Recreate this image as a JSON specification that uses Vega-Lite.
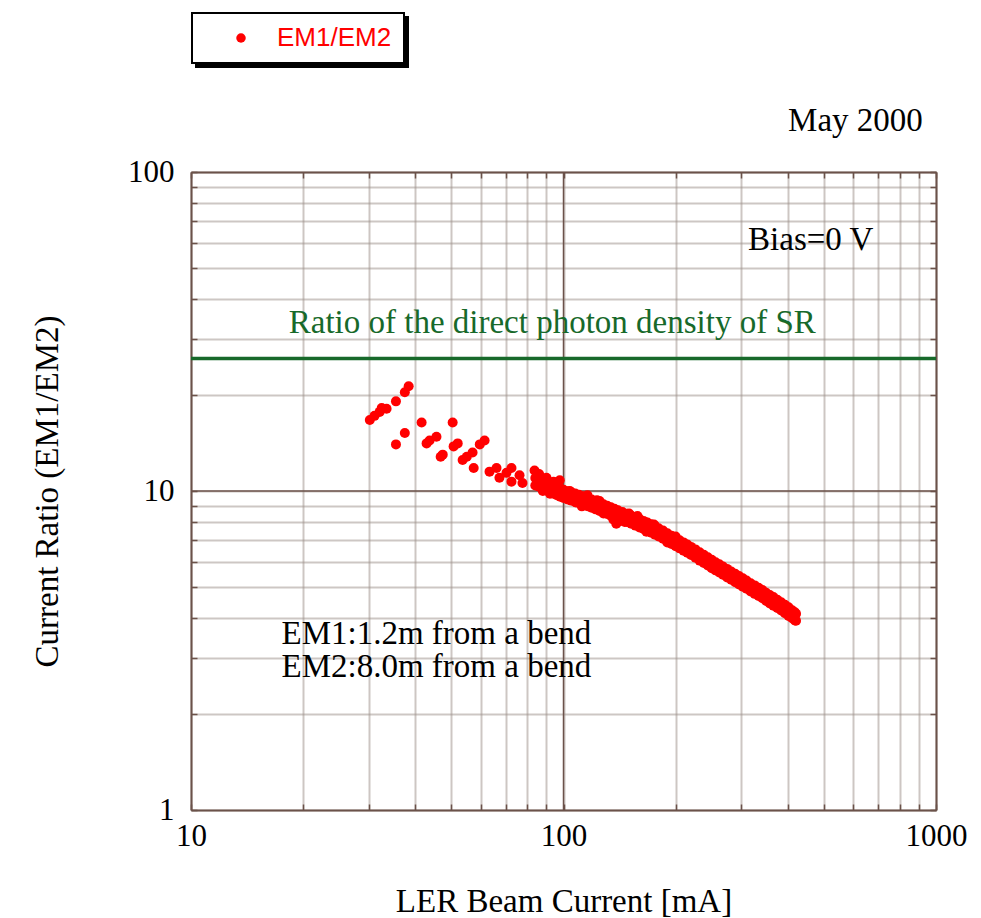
{
  "$schema": "https://vega.github.io/schema/vega-lite/v6.json",
  "width": 745,
  "height": 638,
  "autosize": {"type": "none"},
  "padding": {"left": 191, "top": 172, "right": 45, "bottom": 108},
  "background": "white",
  "config": {"view": {"stroke": null}, "legend": {"strokeWidth": 2}},
  "resolve": {"axis": {"x": "independent", "y": "independent"}, "scale": {"color": "independent"}, "legend": {"color": "independent"}},
  "layer": [
    {
      "data": {"values": [{"gx": 100}]},
      "mark": {"type": "rule", "color": "#6b524a", "strokeWidth": 1.5},
      "encoding": {
        "x": {"field": "gx", "type": "quantitative", "scale": {"type": "log", "domain": [10, 1000], "nice": false},
          "axis": {"orient": "top", "values": [10,20,30,40,50,60,70,80,90,100,200,300,400,500,600,700,800,900,1000], "labels": false, "grid": false, "title": null, "tickSize": -6, "tickColor": "#6b524a", "tickWidth": 1.5, "domainColor": "#6b524a", "domainWidth": 2}}
      }
    },
    {
      "data": {"values": [{"gy": 10}]},
      "mark": {"type": "rule", "color": "#6b524a", "strokeWidth": 1.5},
      "encoding": {
        "y": {"field": "gy", "type": "quantitative", "scale": {"type": "log", "domain": [1, 100], "nice": false},
          "axis": {"orient": "right", "values": [1,2,3,4,5,6,7,8,9,10,20,30,40,50,60,70,80,90,100], "labels": false, "grid": false, "title": null, "tickSize": -6, "tickColor": "#6b524a", "tickWidth": 1.5, "domainColor": "#6b524a", "domainWidth": 2}}
      }
    },
    {
      "data": {"values": [{"ratio": 26, "k": "EM1/EM2"}]},
      "mark": {"type": "rule", "strokeWidth": 3.5},
      "encoding": {
        "y": {"field": "ratio", "type": "quantitative", "scale": {"type": "log", "domain": [1, 100], "nice": false}, "axis": null},
        "color": {"field": "k", "type": "nominal", "scale": {"range": ["#17692a"]},
          "legend": {"orient": "none", "legendX": 5, "legendY": -155, "title": null, "fillColor": "black", "strokeColor": "black", "padding": 12, "symbolOffset": 24, "labelOffset": 23, "labelFont": "Liberation Sans", "labelFontSize": 26, "labelColor": "black", "symbolType": "circle", "symbolSize": 90, "symbolFillColor": "black", "symbolStrokeColor": "black", "zindex": 1}}
      }
    },
    {
      "data": {"values": [
        {"x":30.2,"y":16.7},{"x":31.1,"y":17.2},{"x":32.1,"y":17.7},{"x":32.5,"y":18.2},{"x":33.5,"y":18.1},{"x":35.5,"y":19.1},{"x":37.5,"y":20.4},{"x":38.4,"y":21.3},{"x":35.5,"y":14.0},{"x":37.5,"y":15.2},{"x":41.6,"y":16.4},{"x":42.9,"y":14.1},{"x":43.7,"y":14.4},{"x":45.6,"y":14.8},{"x":46.8,"y":12.8},{"x":47.4,"y":13.0},{"x":50.4,"y":16.4},{"x":50.7,"y":13.8},{"x":52.0,"y":14.1},{"x":53.6,"y":12.5},{"x":55.0,"y":12.8},{"x":57.0,"y":13.2},{"x":57.4,"y":11.8},{"x":59.6,"y":14.0},{"x":61.4,"y":14.4},{"x":63.3,"y":11.5},{"x":66.1,"y":11.8},{"x":67.3,"y":11.0},{"x":70.3,"y":11.4},{"x":72.5,"y":11.8},{"x":72.5,"y":10.7},{"x":76.2,"y":11.2},{"x":77.6,"y":10.6},{"x":83.6,"y":11.6},
        {"x":86,"y":11.3},{"x":90,"y":11.0},{"x":94,"y":10.7},{"x":97.7,"y":10.8},{"x":92,"y":9.8},{"x":88,"y":10.0},{"x":104,"y":10.0},{"x":108,"y":9.2},{"x":125,"y":9.3},{"x":123,"y":9.35},{"x":128,"y":8.5},{"x":138.6,"y":7.9},{"x":140,"y":8.0},{"x":136,"y":8.15},{"x":150,"y":8.5},{"x":158,"y":8.35},{"x":175,"y":7.85},{"x":200,"y":7.2},{"x":190,"y":6.9},{"x":116,"y":9.7},{"x":112,"y":8.95},{"x":146,"y":8.0},{"x":167,"y":7.45},
        {"x":84,"y":10.99},{"x":84,"y":10.41},{"x":86,"y":10.89},{"x":86,"y":10.31},{"x":88,"y":10.76},{"x":88,"y":10.14},{"x":90,"y":10.66},{"x":90,"y":10.04},{"x":92,"y":10.50},{"x":92,"y":9.90},{"x":94,"y":10.40},{"x":94,"y":9.80},{"x":96,"y":10.30},{"x":96,"y":9.70},{"x":98,"y":10.20},{"x":98,"y":9.60},{"x":100,"y":10.09},{"x":100,"y":9.51},{"x":102.5,"y":9.99},{"x":102.5,"y":9.41},{"x":105,"y":9.91},{"x":105,"y":9.33},{"x":107.5,"y":9.82},{"x":107.5,"y":9.24},{"x":110,"y":9.73},{"x":110,"y":9.17},{"x":113,"y":9.62},{"x":113,"y":9.06},{"x":116,"y":9.52},{"x":116,"y":8.96},{"x":119,"y":9.40},{"x":119,"y":8.86},{"x":122,"y":9.30},{"x":122,"y":8.76},{"x":125,"y":9.20},{"x":125,"y":8.66},{"x":128,"y":9.09},{"x":128,"y":8.57},{"x":131,"y":8.99},{"x":131,"y":8.47},{"x":134,"y":8.89},{"x":134,"y":8.37},{"x":137,"y":8.80},{"x":137,"y":8.28},{"x":140,"y":8.70},{"x":140,"y":8.20},{"x":144,"y":8.59},{"x":144,"y":8.09},{"x":148,"y":8.49},{"x":148,"y":7.99},{"x":152,"y":8.37},{"x":152,"y":7.89},{"x":156,"y":8.27},{"x":156,"y":7.79},{"x":160,"y":8.17},{"x":160,"y":7.69},{"x":164,"y":8.06},{"x":164,"y":7.60},{"x":168,"y":7.96},{"x":168,"y":7.50},{"x":172,"y":7.86},{"x":172,"y":7.40},{"x":176,"y":7.76},{"x":176,"y":7.30},{"x":180,"y":7.64},{"x":180,"y":7.20},{"x":185,"y":7.52},{"x":185,"y":7.08},{"x":190,"y":7.37},{"x":190,"y":6.95},{"x":195,"y":7.24},{"x":195,"y":6.82},{"x":200,"y":7.13},{"x":200,"y":6.71},{"x":205,"y":7.01},{"x":205,"y":6.61},{"x":210,"y":6.90},{"x":210,"y":6.50},{"x":215,"y":6.80},{"x":215,"y":6.40},{"x":220,"y":6.68},{"x":220,"y":6.30},{"x":226,"y":6.56},{"x":226,"y":6.18},{"x":232,"y":6.43},{"x":232,"y":6.05},{"x":238,"y":6.31},{"x":238,"y":5.95},{"x":244,"y":6.20},{"x":244,"y":5.84},{"x":250,"y":6.09},{"x":250,"y":5.73},{"x":256,"y":5.98},{"x":256,"y":5.64},{"x":262,"y":5.89},{"x":262,"y":5.55},{"x":268,"y":5.80},{"x":268,"y":5.46},{"x":275,"y":5.70},{"x":275,"y":5.36},{"x":282,"y":5.59},{"x":282,"y":5.27},{"x":289,"y":5.50},{"x":289,"y":5.18},{"x":296,"y":5.41},{"x":296,"y":5.09},{"x":303,"y":5.33},{"x":303,"y":5.01},{"x":310,"y":5.24},{"x":310,"y":4.94},{"x":318,"y":5.14},{"x":318,"y":4.84},{"x":326,"y":5.06},{"x":326,"y":4.76},{"x":334,"y":4.97},{"x":334,"y":4.69},{"x":342,"y":4.89},{"x":342,"y":4.61},{"x":350,"y":4.80},{"x":350,"y":4.52},{"x":358,"y":4.72},{"x":358,"y":4.44},{"x":366,"y":4.65},{"x":366,"y":4.37},{"x":375,"y":4.56},{"x":375,"y":4.30},{"x":384,"y":4.48},{"x":384,"y":4.22},{"x":393,"y":4.40},{"x":393,"y":4.14},{"x":402,"y":4.32},{"x":402,"y":4.06},{"x":411,"y":4.23},{"x":411,"y":3.99},{"x":418,"y":4.17},{"x":418,"y":3.93},{"x":421,"y":4.12},{"x":421,"y":3.92}
      ]},
      "mark": {"type": "point", "filled": true, "shape": "circle", "size": 100, "opacity": 1},
      "encoding": {
        "x": {"field": "x", "type": "quantitative", "scale": {"type": "log", "domain": [10, 1000], "nice": false},
          "axis": {"orient": "bottom", "values": [10,20,30,40,50,60,70,80,90,100,200,300,400,500,600,700,800,900,1000], "labelExpr": "datum.value == 10 || datum.value == 100 || datum.value == 1000 ? format(datum.value, 'd') : ''", "labelOverlap": false, "labelFlush": false, "grid": true, "gridColor": "#9b8e88", "gridDash": [1, 1], "gridWidth": 2, "tickSize": -6, "tickColor": "#6b524a", "tickWidth": 1.5, "domainColor": "#6b524a", "domainWidth": 2, "labelFont": "Liberation Serif", "labelFontSize": 31, "labelColor": "black", "labelPadding": 17, "title": "LER Beam Current [mA]", "titleFont": "Liberation Serif", "titleFontSize": 33, "titleFontWeight": "normal", "titleColor": "black", "titlePadding": 34}},
        "y": {"field": "y", "type": "quantitative", "scale": {"type": "log", "domain": [1, 100], "nice": false},
          "axis": {"orient": "left", "values": [1,2,3,4,5,6,7,8,9,10,20,30,40,50,60,70,80,90,100], "labelExpr": "datum.value == 1 || datum.value == 10 || datum.value == 100 ? format(datum.value, 'd') : ''", "labelOverlap": false, "labelFlush": false, "grid": true, "gridColor": "#9b8e88", "gridDash": [1, 1], "gridWidth": 2, "tickSize": -6, "tickColor": "#6b524a", "tickWidth": 1.5, "domainColor": "#6b524a", "domainWidth": 2, "labelFont": "Liberation Serif", "labelFontSize": 31, "labelColor": "black", "labelPadding": 23, "title": "Current Ratio (EM1/EM2)", "titleFont": "Liberation Serif", "titleFontSize": 33, "titleFontWeight": "normal", "titleColor": "black", "titlePadding": 63}},
        "color": {"datum": "EM1/EM2", "scale": {"range": ["#ff0000"]},
          "legend": {"orient": "none", "legendX": 1, "legendY": -159, "title": null, "fillColor": "white", "strokeColor": "black", "padding": 12, "symbolOffset": 24, "labelOffset": 23, "labelFont": "Liberation Sans", "labelFontSize": 26, "labelColor": "#ff0000", "symbolType": "circle", "symbolSize": 90, "symbolStrokeWidth": 0, "zindex": 2}}
      }
    },
    {
      "data": {"values": [
        {"tx": 313, "ty": 56.9, "t": "Bias=0 V"},
        {"tx": 17.5, "ty": 3.31, "t": "EM1:1.2m from a bend"},
        {"tx": 17.5, "ty": 2.61, "t": "EM2:8.0m from a bend"}
      ]},
      "mark": {"type": "text", "align": "left", "baseline": "alphabetic", "font": "Liberation Serif", "fontSize": 33, "color": "black"},
      "encoding": {
        "x": {"field": "tx", "type": "quantitative", "scale": {"type": "log", "domain": [10, 1000], "nice": false}, "axis": null},
        "y": {"field": "ty", "type": "quantitative", "scale": {"type": "log", "domain": [1, 100], "nice": false}, "axis": null},
        "text": {"field": "t"}
      }
    },
    {
      "data": {"values": [{"tx": 922, "ty": 134.5, "t": "May 2000"}]},
      "mark": {"type": "text", "align": "right", "baseline": "alphabetic", "font": "Liberation Serif", "fontSize": 33, "color": "black", "clip": false},
      "encoding": {
        "x": {"field": "tx", "type": "quantitative", "scale": {"type": "log", "domain": [10, 1000], "nice": false}, "axis": null},
        "y": {"field": "ty", "type": "quantitative", "scale": {"type": "log", "domain": [1, 100], "nice": false}, "axis": null},
        "text": {"field": "t"}
      }
    },
    {
      "data": {"values": [{"tx": 18.3, "ty": 31.3, "t": "Ratio of the direct photon density of SR"}]},
      "mark": {"type": "text", "align": "left", "baseline": "alphabetic", "font": "Liberation Serif", "fontSize": 33, "color": "#17692a"},
      "encoding": {
        "x": {"field": "tx", "type": "quantitative", "scale": {"type": "log", "domain": [10, 1000], "nice": false}, "axis": null},
        "y": {"field": "ty", "type": "quantitative", "scale": {"type": "log", "domain": [1, 100], "nice": false}, "axis": null},
        "text": {"field": "t"}
      }
    }
  ]
}
